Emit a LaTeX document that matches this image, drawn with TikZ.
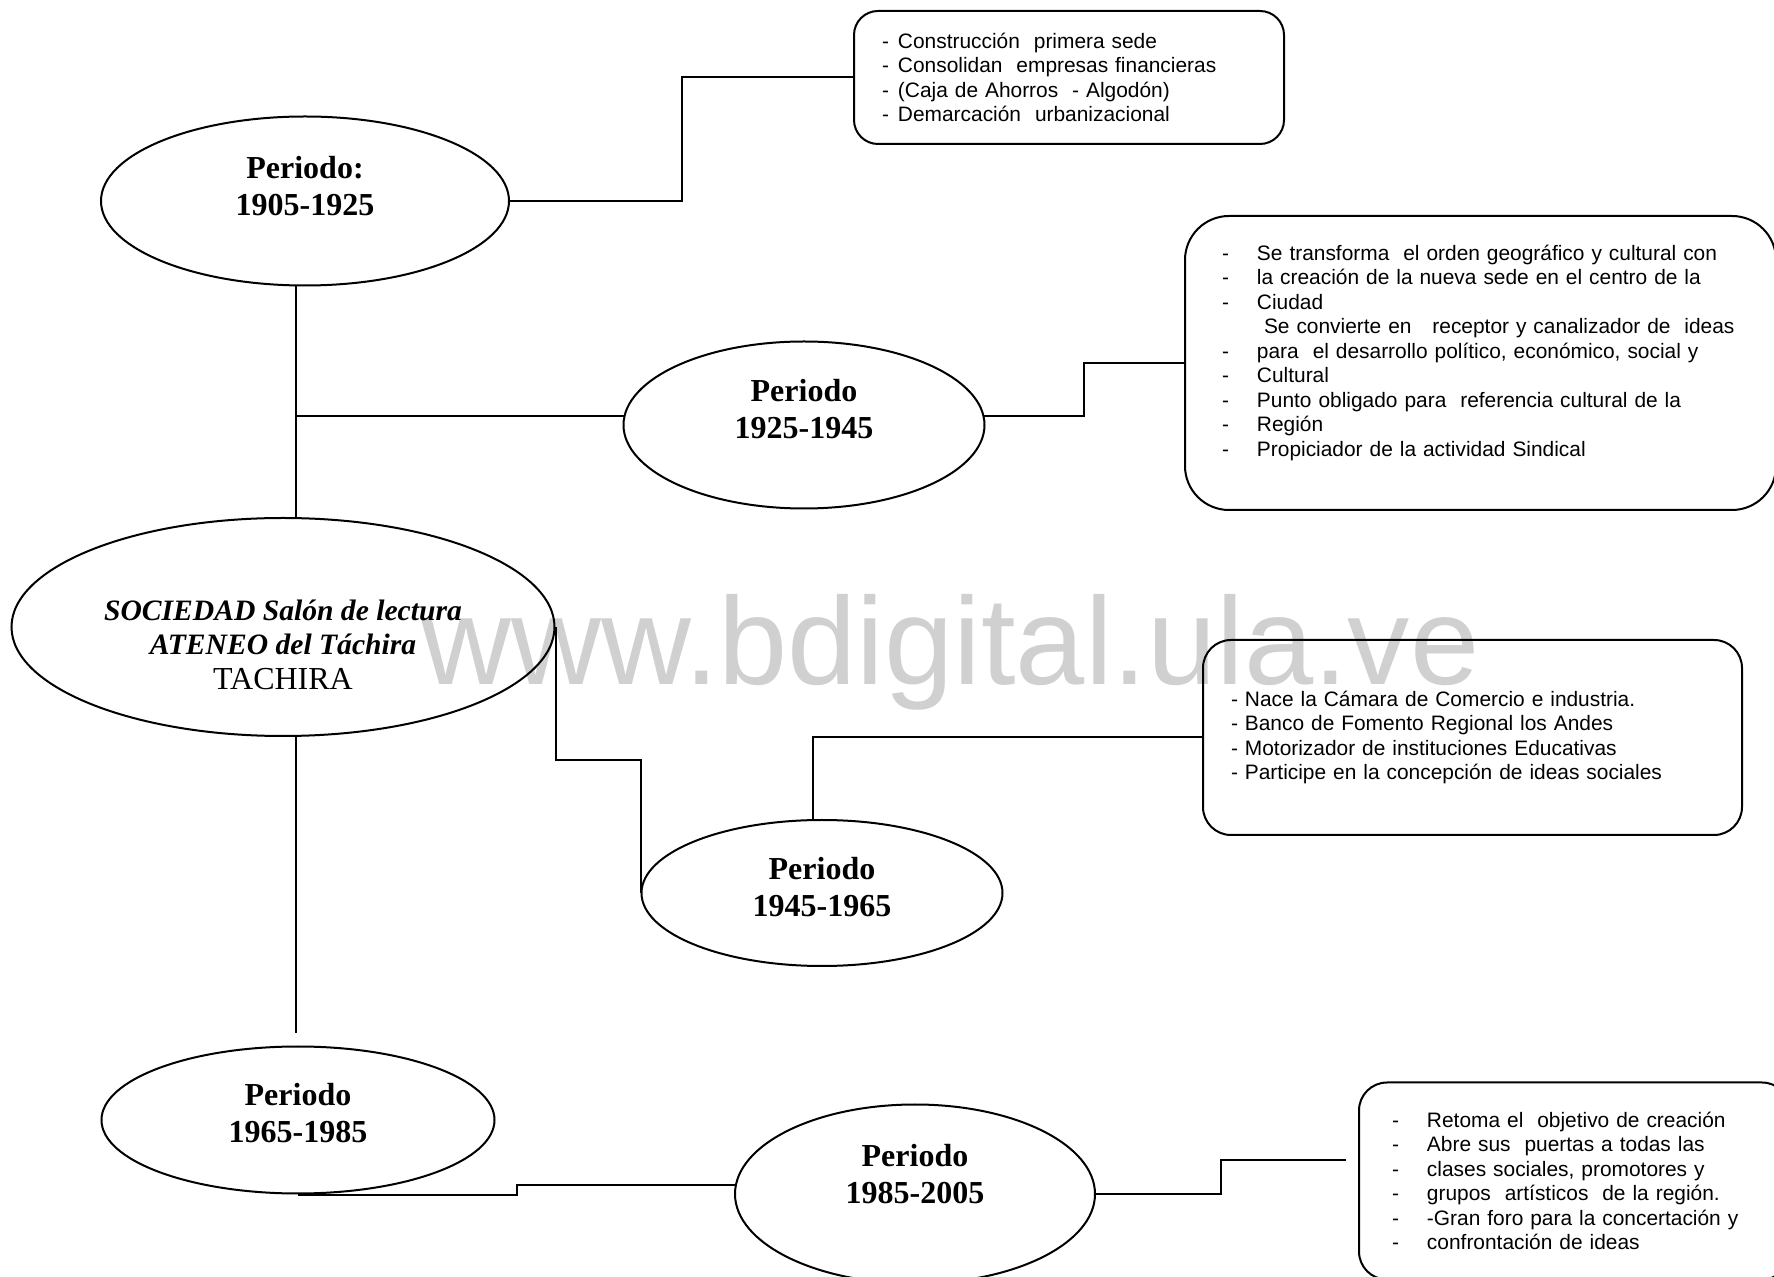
\documentclass[tikz,border=0pt]{standalone}
\usepackage{fontspec}
\setmainfont{Liberation Serif}
\newfontfamily\arialfont{Liberation Sans}
\usetikzlibrary{shapes.geometric,calc}

\definecolor{wmgray}{RGB}{208,208,208}
\newcommand{\ptext}[2]{\raisebox{#1}[0pt][0pt]{\begin{tabular}{@{}c@{}}#2\end{tabular}}}
\newcommand{\dl}[2][17.5pt]{\mbox{\makebox[#1][l]{-}#2}}

\tikzset{
  period/.style={draw, ellipse, line width=1pt, inner sep=0pt,
    font=\fontsize{16}{18.7}\selectfont\bfseries},
  root/.style={period, font=\fontsize{14.8}{17.3}\selectfont},
  infobox/.style={draw, line width=1pt, align=left, inner ysep=0pt,
    font=\arialfont\fontsize{10.45}{12.25}\selectfont},
}

\begin{document}
\begin{tikzpicture}[x=0.5pt,y=-0.5pt]
  \useasboundingbox (0,0) rectangle (1774,1277);
  % watermark
  \node[anchor=base west, inner sep=0pt, text=wmgray,
    font=\arialfont\fontsize{62.2}{70}\selectfont] (wm) at (421,685) {www.bdigital.ula.ve};

  \node[root, minimum width=271.5pt, minimum height=109pt] (main) at (283,627)
    {\ptext{-14pt}{\textbf{\textit{SOCIEDAD Salón de lectura}}\\
      \textbf{\textit{ATENEO del Táchira}}\\
      {\fontsize{16}{17.3}\selectfont TACHIRA}}};
  \node[period, minimum width=204pt, minimum height=84.5pt] (p1) at (305,201)
    {\ptext{1.5pt}{Periodo:\\1905-1925}};
  \node[period, minimum width=180.5pt, minimum height=83.5pt] (p2) at (804,425)
    {\ptext{2pt}{Periodo\\1925-1945}};
  \node[period, minimum width=180.5pt, minimum height=73pt] (p3) at (822,893)
    {\ptext{-3pt}{Periodo\\1945-1965}};
  \node[period, minimum width=196.5pt, minimum height=73.5pt] (p4) at (298,1120)
    {\ptext{-2.5pt}{Periodo\\1965-1985}};
  \node[period, minimum width=180pt, minimum height=89.5pt] (p5) at (915,1194)
    {\ptext{4pt}{Periodo\\1985-2005}};

  \node[infobox, rounded corners=12pt, text width=187pt, inner xsep=14pt,
    minimum height=66.5pt] (b1) at (1069,77.5)
    {\dl[8pt]{Construcción\ \ primera sede}\\
     \dl[8pt]{Consolidan\ \ empresas financieras}\\
     \dl[8pt]{(Caja de Ahorros\ \ - Algodón)}\\
     \dl[8pt]{Demarcación\ \ urbanizacional}};
  \node[infobox, rounded corners=22pt, text width=258.5pt, inner xsep=18.5pt,
    minimum height=147pt] (b2) at (1480.5,363)
    {\dl{Se transforma\ \ el orden geográfico y cultural con}\\
     \dl{la creación de la nueva sede en el centro de la}\\
     \dl{Ciudad}\\
     \mbox{\hspace*{21pt}Se convierte en\ \ \ receptor y canalizador de\ \ ideas}\\
     \dl{para\ \ el desarrollo político, económico, social y}\\
     \dl{Cultural}\\
     \dl{Punto obligado para\ \ referencia cultural de la}\\
     \dl{Región}\\
     \dl{Propiciador de la actividad Sindical}\\
     \mbox{}};
  \node[infobox, rounded corners=14pt, text width=241.5pt, inner xsep=14pt,
    minimum height=97.5pt] (b3) at (1472.5,737.5)
    {- Nace la Cámara de Comercio e industria.\\
     - Banco de Fomento Regional los Andes\\
     - Motorizador de instituciones Educativas\\
     - Participe en la concepción de ideas sociales};
  \node[infobox, rounded corners=14pt, text width=182.5pt, inner xsep=16.5pt,
    minimum height=98.5pt] (b5) at (1574.5,1181)
    {\dl{Retoma el\ \ objetivo de creación}\\
     \dl{Abre sus\ \ puertas a todas las}\\
     \dl{clases sociales, promotores y}\\
     \dl{grupos\ \ artísticos\ \ de la región.}\\
     \dl{-Gran foro para la concertación y}\\
     \dl{confrontación de ideas}};

  \coordinate (stub) at (296,1033);
  \coordinate (b5in) at (1346,1160);

  \begin{scope}[line width=1pt]
    \draw (p1.south -| stub) -- (main.north -| stub);
    \draw (stub |- p2.177) -- (p2.177);
    \draw (main.south -| stub) -- (stub);
    \draw (p1.east) -| ($(p1.east)!0.5!(b1.west)$) |- (b1.west);
    \draw (p2.3) -| ($(p2.3)!0.5!(b2.west)$) |- (b2.west);
    \draw (main.east) |- ($(main.east)!0.5!(p3.west)$) -| (p3.west);
    \draw (p3.97) |- (b3.west);
    \draw (p4.south) -| ($(p4.south)!0.5!(p5.177)$) |- (p5.177);
    \draw (p5.east) -| ($(p5.east)!0.5!(b5in)$) |- (b5in);
  \end{scope}
\end{tikzpicture}
\end{document}
